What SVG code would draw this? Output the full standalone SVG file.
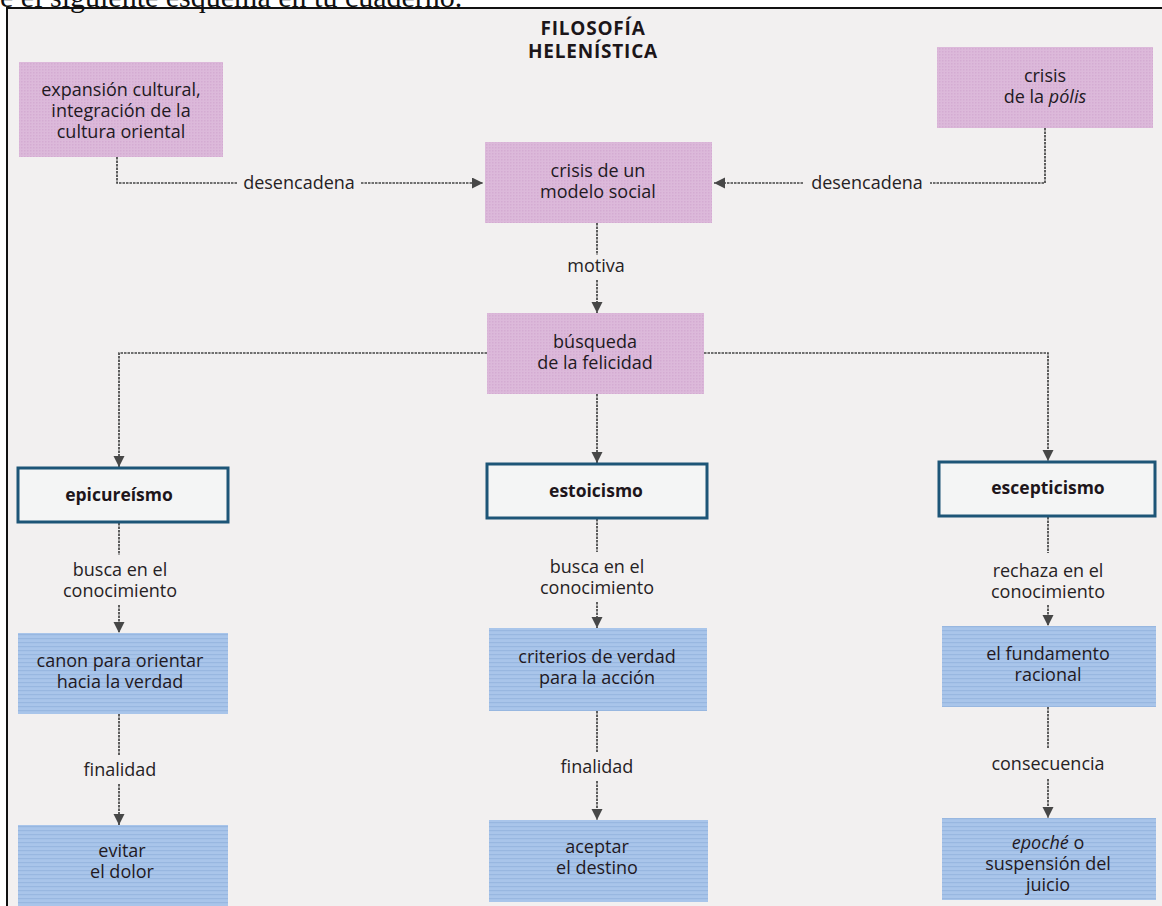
<svg xmlns="http://www.w3.org/2000/svg" width="1162" height="906" viewBox="0 0 1162 906">
  <style>
    .t { font-family: "Open Sans", "Noto Sans", "Liberation Sans", sans-serif; font-size: 18px; fill: #22191f; text-anchor: middle; }
    .b { font-family: "Open Sans", "Noto Sans", "Liberation Sans", sans-serif; font-size: 17.5px; font-weight: bold; fill: #1e161b; text-anchor: middle; }
    .lbl { font-family: "Open Sans", "Noto Sans", "Liberation Sans", sans-serif; font-size: 18px; fill: #262224; text-anchor: middle; }
    .title { font-family: "Open Sans", "Noto Sans", "Liberation Sans", sans-serif; font-size: 19px; font-weight: bold; fill: #1c1619; text-anchor: middle; letter-spacing: 0.8px; }
    .pink { fill: url(#pinkTex); }
    .blue { fill: url(#blueTex); }
    .outl { fill: #f4f5f5; stroke: #1d5577; stroke-width: 3; }
    .con { fill: none; stroke: #444444; stroke-width: 1.7; stroke-dasharray: 2.5 1; }
  </style>
  <defs>
    <pattern id="pinkTex" width="3" height="3" patternUnits="userSpaceOnUse">
      <rect width="3" height="3" fill="#dcb9da"/>
      <rect width="1.5" height="1.5" fill="#d4acd2"/>
    </pattern>
    <pattern id="blueTex" width="4" height="4" patternUnits="userSpaceOnUse">
      <rect width="4" height="4" fill="#a9c5ea"/>
      <rect y="2" width="4" height="1.2" fill="#98b7e0"/>
    </pattern>
    <marker id="arr" markerWidth="12" markerHeight="12" refX="11" refY="5.5" orient="auto" markerUnits="userSpaceOnUse">
      <path d="M0,0 L11,5.5 L0,11 Z" fill="#474747"/>
    </marker>
  </defs>

  <!-- page -->
  <rect x="0" y="0" width="1162" height="906" fill="#ffffff"/>
  <rect x="7" y="8" width="1160" height="910" fill="#f2f0f0"/>
  <path d="M7,906 V8 H1162" fill="none" stroke="#111" stroke-width="2"/>
  <text x="-15" y="7" font-family="Liberation Serif, serif" font-size="30" fill="#111">be el siguiente esquema en tu cuaderno.</text>

  <!-- title -->
  <g id="title">
    <text class="title" x="593" y="35">FILOSOFÍA</text>
    <text class="title" x="593" y="58">HELENÍSTICA</text>
  </g>

  <!-- connectors -->
  <g id="connectors">
    <path class="con" d="M117,157 V183 H237"/>
    <path class="con" d="M361,183 H483" marker-end="url(#arr)"/>
    <text class="lbl" x="299" y="189">desencadena</text>

    <path class="con" d="M1045,128 V183 H930"/>
    <path class="con" d="M803,183 H714" marker-end="url(#arr)"/>
    <text class="lbl" x="867" y="189">desencadena</text>

    <path class="con" d="M597,223 V255"/>
    <path class="con" d="M597,280 V313" marker-end="url(#arr)"/>
    <text class="lbl" x="596" y="272">motiva</text>

    <path class="con" d="M487,353 H119 V467" marker-end="url(#arr)"/>
    <path class="con" d="M704,353 H1048 V461" marker-end="url(#arr)"/>
    <path class="con" d="M597,394 V463" marker-end="url(#arr)"/>

    <path class="con" d="M119,523 V555"/>
    <path class="con" d="M119,605 V633" marker-end="url(#arr)"/>
    <text class="lbl" x="120" y="576">busca en el</text>
    <text class="lbl" x="120" y="597">conocimiento</text>

    <path class="con" d="M597,519 V552"/>
    <path class="con" d="M597,602 V628" marker-end="url(#arr)"/>
    <text class="lbl" x="597" y="573">busca en el</text>
    <text class="lbl" x="597" y="594">conocimiento</text>

    <path class="con" d="M1048,517 V553"/>
    <path class="con" d="M1048,605 V626" marker-end="url(#arr)"/>
    <text class="lbl" x="1048" y="577">rechaza en el</text>
    <text class="lbl" x="1048" y="598">conocimiento</text>

    <path class="con" d="M119,714 V755"/>
    <path class="con" d="M119,784 V825" marker-end="url(#arr)"/>
    <text class="lbl" x="120" y="776">finalidad</text>

    <path class="con" d="M597,711 V752"/>
    <path class="con" d="M597,781 V820" marker-end="url(#arr)"/>
    <text class="lbl" x="597" y="773">finalidad</text>

    <path class="con" d="M1048,707 V749"/>
    <path class="con" d="M1048,779 V818" marker-end="url(#arr)"/>
    <text class="lbl" x="1048" y="770">consecuencia</text>
  </g>

  <!-- nodes -->
  <g id="expansion">
    <rect class="pink" x="19" y="62" width="204" height="95"/>
    <text class="t" x="121" y="96">expansión cultural,</text>
    <text class="t" x="121" y="117">integración de la</text>
    <text class="t" x="121" y="138">cultura oriental</text>
  </g>
  <g id="crisis-polis">
    <rect class="pink" x="937" y="47" width="216" height="81"/>
    <text class="t" x="1045" y="82">crisis</text>
    <text class="t" x="1045" y="103">de la <tspan font-style="italic">pólis</tspan></text>
  </g>
  <g id="crisis-modelo">
    <rect class="pink" x="485" y="142" width="227" height="81"/>
    <text class="t" x="598" y="177">crisis de un</text>
    <text class="t" x="598" y="198">modelo social</text>
  </g>
  <g id="busqueda">
    <rect class="pink" x="487" y="313" width="217" height="81"/>
    <text class="t" x="595" y="348">búsqueda</text>
    <text class="t" x="595" y="369">de la felicidad</text>
  </g>
  <g id="epicureismo">
    <rect class="outl" x="18" y="468" width="210" height="54"/>
    <text class="b" x="119" y="501">epicureísmo</text>
  </g>
  <g id="estoicismo">
    <rect class="outl" x="487" y="464" width="220" height="54"/>
    <text class="b" x="596" y="497">estoicismo</text>
  </g>
  <g id="escepticismo">
    <rect class="outl" x="939" y="462" width="216" height="54"/>
    <text class="b" x="1048" y="494">escepticismo</text>
  </g>
  <g id="canon">
    <rect class="blue" x="18" y="633" width="210" height="81"/>
    <text class="t" x="120" y="667">canon para orientar</text>
    <text class="t" x="120" y="688">hacia la verdad</text>
  </g>
  <g id="criterios">
    <rect class="blue" x="489" y="628" width="218" height="83"/>
    <text class="t" x="597" y="663">criterios de verdad</text>
    <text class="t" x="597" y="684">para la acción</text>
  </g>
  <g id="fundamento">
    <rect class="blue" x="942" y="626" width="214" height="81"/>
    <text class="t" x="1048" y="660">el fundamento</text>
    <text class="t" x="1048" y="681">racional</text>
  </g>
  <g id="evitar">
    <rect class="blue" x="18" y="825" width="210" height="81"/>
    <text class="t" x="122" y="857">evitar</text>
    <text class="t" x="122" y="878">el dolor</text>
  </g>
  <g id="aceptar">
    <rect class="blue" x="489" y="820" width="219" height="82"/>
    <text class="t" x="597" y="853">aceptar</text>
    <text class="t" x="597" y="874">el destino</text>
  </g>
  <g id="epoche">
    <rect class="blue" x="942" y="818" width="214" height="82"/>
    <text class="t" x="1048" y="849"><tspan font-style="italic">epoché</tspan> o</text>
    <text class="t" x="1048" y="870">suspensión del</text>
    <text class="t" x="1048" y="891">juicio</text>
  </g>
</svg>
